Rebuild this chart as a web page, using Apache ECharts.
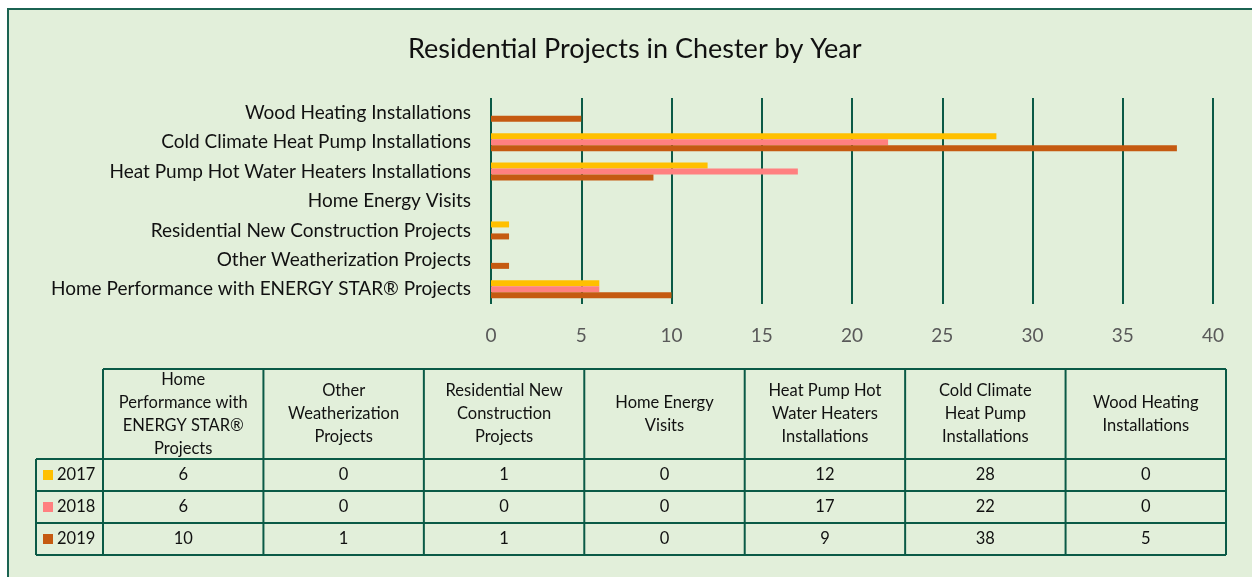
<!DOCTYPE html>
<html>
<head>
<meta charset="utf-8">
<script src="https://cdn.jsdelivr.net/npm/echarts@6/dist/echarts.min.js"></script>
<style>
  body { margin: 0; background: #fff; }
  #wrap { position: relative; width: 1252px; height: 577px; overflow: hidden; }
  #panel {
    position: absolute; left: 7px; top: 8px; width: 1260px; height: 600px;
    background: #E2EFDA; border-top: 2px solid #1B6352; border-left: 2px solid #1B6352;
  }
  #chart { position: absolute; left: 0; top: 0; width: 1252px; height: 577px; }
</style>
</head>
<body>
<div id="wrap">
  <div id="panel"></div>
  <div id="chart"></div>
</div>
<script>
// 类别（从下到上）
const categories = [
  "Home Performance with ENERGY STAR® Projects",
  "Other Weatherization Projects",
  "Residential New Construction Projects",
  "Home Energy Visits",
  "Heat Pump Hot Water Heaters Installations",
  "Cold Climate Heat Pump Installations",
  "Wood Heating Installations",
];
// 表头换行文字
const headerLabels = [
  "Home\nPerformance with\nENERGY STAR®\nProjects",
  "Other\nWeatherization\nProjects",
  "Residential New\nConstruction\nProjects",
  "Home Energy\nVisits",
  "Heat Pump Hot\nWater Heaters\nInstallations",
  "Cold Climate\nHeat Pump\nInstallations",
  "Wood Heating\nInstallations",
];
const years = ["2017", "2018", "2019"];
const values2017 = [6, 0, 1, 0, 12, 28, 0];
const values2018 = [6, 0, 0, 0, 17, 22, 0];
const values2019 = [10, 1, 1, 0, 9, 38, 5];
const xTicks = [0, 5, 10, 15, 20, 25, 30, 35, 40];

(() => {
  configProjectsChart();
})();

function configProjectsChart() {
  const chart = echarts.init(document.getElementById("chart"));
  const font = "Lato, 'Open Sans', sans-serif";
  const colors = ["#FFC000", "#FF8080", "#C55A11"];
  const lineColor = "#0B5A46";
  const seriesValues = [values2017, values2018, values2019];
  const tableFont = "16.5px " + font;

  // 表格布局
  const legendLeft = 36;
  const tableLeft = 103;
  const tableRight = 1226;
  const colWidth = (tableRight - tableLeft) / categories.length;
  const headTop = 369;
  const headBottom = 459;
  const rowHeight = 32;
  const tableBottom = headBottom + rowHeight * years.length;

  const graphics = [];
  const lineStyle = { stroke: lineColor, lineWidth: 2 };
  // 横线
  graphics.push({ type: "line", shape: { x1: tableLeft, y1: headTop, x2: tableRight, y2: headTop }, style: lineStyle });
  for (let r = 0; r <= years.length; r++) {
    const y = headBottom + r * rowHeight;
    graphics.push({ type: "line", shape: { x1: legendLeft, y1: y, x2: tableRight, y2: y }, style: lineStyle });
  }
  // 竖线
  graphics.push({ type: "line", shape: { x1: legendLeft, y1: headBottom, x2: legendLeft, y2: tableBottom }, style: lineStyle });
  for (let c = 0; c <= categories.length; c++) {
    const x = tableLeft + c * colWidth;
    graphics.push({ type: "line", shape: { x1: x, y1: headTop, x2: x, y2: tableBottom }, style: lineStyle });
  }
  // 表头
  headerLabels.forEach((label, c) => {
    graphics.push({
      type: "text",
      x: tableLeft + (c + 0.5) * colWidth,
      y: (headTop + headBottom) / 2,
      style: {
        text: label, fill: "#111", font: tableFont,
        align: "center", verticalAlign: "middle", lineHeight: 23,
      },
    });
  });
  // 数据行
  years.forEach((year, r) => {
    const cy = headBottom + (r + 0.5) * rowHeight;
    graphics.push({ type: "rect", shape: { x: 43, y: cy - 5, width: 10, height: 10 }, style: { fill: colors[r] } });
    graphics.push({
      type: "text", x: 57, y: cy,
      style: { text: year, fill: "#111", font: tableFont, align: "left", verticalAlign: "middle" },
    });
    seriesValues[r].forEach((v, c) => {
      graphics.push({
        type: "text", x: tableLeft + (c + 0.5) * colWidth, y: cy,
        style: { text: String(v), fill: "#111", font: tableFont, align: "center", verticalAlign: "middle" },
      });
    });
  });

  const option = {
    animation: false,
    color: colors,
    textStyle: { fontFamily: font },
    title: {
      text: "Residential Projects in Chester by Year",
      left: 403,
      top: 31,
      textStyle: { fontSize: 27, fontWeight: "normal", color: "#111", fontFamily: font },
    },
    grid: { left: 491, right: 39, top: 98, bottom: 273 },
    xAxis: {
      type: "value",
      min: xTicks[0],
      max: xTicks[xTicks.length - 1],
      interval: 5,
      axisLine: { show: false },
      axisTick: { show: false },
      splitLine: { lineStyle: { color: lineColor, width: 2 } },
      axisLabel: { color: "#595959", fontSize: 19, margin: 22, fontFamily: font },
    },
    yAxis: {
      type: "category",
      data: categories,
      axisLine: { show: false },
      axisTick: { show: false },
      axisLabel: { color: "#111", fontSize: 19, margin: 20, fontFamily: font },
    },
    series: years.map((year, i) => ({
      name: year,
      type: "bar",
      data: seriesValues[i],
      barWidth: 6,
      barGap: "0%",
    })),
    graphic: graphics,
  };
  chart.setOption(option);
}
</script>
</body>
</html>
